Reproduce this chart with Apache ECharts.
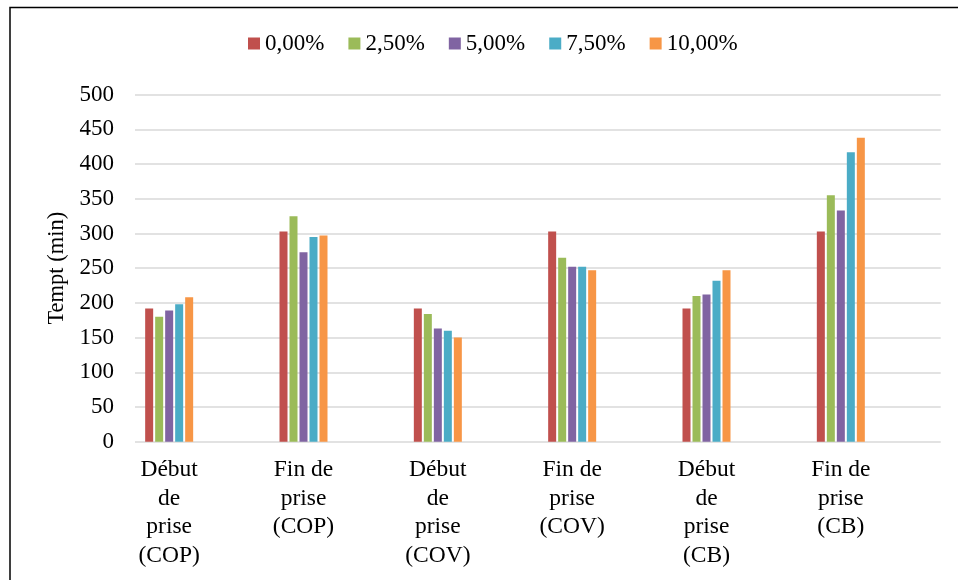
<!DOCTYPE html>
<html>
<head>
<meta charset="utf-8">
<script src="https://cdn.jsdelivr.net/npm/echarts@6/dist/echarts.min.js"></script>
<style>
  html, body { margin: 0; padding: 0; background: #fff; }
  #chart { width: 958px; height: 580px; }
</style>
</head>
<body>
<div id="chart"></div>
<script>
// Setting times (min) for each mix, by admixture dosage
const categories = [
  'Début\nde\nprise\n(COP)',
  'Fin de\nprise\n(COP)',
  'Début\nde\nprise\n(COV)',
  'Fin de\nprise\n(COV)',
  'Début\nde\nprise\n(CB)',
  'Fin de\nprise\n(CB)'
];
const seriesNames = ['0,00%', '2,50%', '5,00%', '7,50%', '10,00%'];
const dose0 = [192, 303, 192, 303, 192, 303];
const dose25 = [180, 325, 184, 265, 210, 355];
const dose50 = [189, 273, 163, 252, 212, 333];
const dose75 = [198, 295, 160, 252, 232, 417];
const dose100 = [208, 297, 150, 247, 247, 438];
const yTicks = { min: 0, max: 500, interval: 50 };

const values = [dose0, dose25, dose50, dose75, dose100];
const colors = ['#C0504D', '#9BBB59', '#8064A2', '#4BACC6', '#F79646'];
const font = '"Liberation Serif", "Times New Roman", serif';

const chart = echarts.init(document.getElementById('chart'), null, { renderer: 'canvas' });

chart.setOption({
  animation: false,
  backgroundColor: '#fff',
  color: colors,
  graphic: [{
    type: 'rect',
    shape: { x: 10, y: 7.5, width: 1200, height: 1200 },
    style: { fill: 'none', stroke: '#000', lineWidth: 1.5 },
    silent: true,
    z: 100
  }],
  legend: {
    data: seriesNames,
    left: 248,
    top: 32,
    padding: 0,
    icon: 'rect',
    itemWidth: 12,
    itemHeight: 12,
    itemGap: 24,
    textStyle: { fontFamily: font, fontSize: 23, color: '#000' }
  },
  grid: [
    // bar area
    { left: 102, right: 50, top: 94.7, bottom: 138.3 },
    // gridline / value-axis area
    { left: 135, right: 17.3, top: 94.7, bottom: 138.3 }
  ],
  xAxis: [
    {
      type: 'category',
      gridIndex: 0,
      data: categories,
      axisLine: { show: false },
      axisTick: { show: false },
      axisLabel: {
        margin: 14,
        fontFamily: font,
        fontSize: 23.5,
        lineHeight: 28.5,
        color: '#000',
        interval: 0,
        align: 'center'
      }
    },
    { type: 'value', gridIndex: 1, show: false, min: 0, max: 1 }
  ],
  yAxis: [
    {
      type: 'value',
      gridIndex: 0,
      min: yTicks.min, max: yTicks.max, interval: yTicks.interval,
      axisLabel: { show: false },
      axisLine: { show: false },
      axisTick: { show: false },
      splitLine: { show: false }
    },
    {
      type: 'value',
      gridIndex: 1,
      min: yTicks.min, max: yTicks.max, interval: yTicks.interval,
      name: 'Tempt (min)',
      nameLocation: 'middle',
      nameGap: 66,
      nameTextStyle: { fontFamily: font, fontSize: 22.5, color: '#000' },
      axisLine: { show: false },
      axisTick: { show: false },
      axisLabel: { margin: 21, fontFamily: font, fontSize: 23, color: '#000', verticalAlign: 'middle', padding: [4, 0, 0, 0] },
      splitLine: { show: true, lineStyle: { color: '#d9d9d9', width: 1.6 } }
    }
  ],
  series: seriesNames.map((name, i) => ({
    name,
    type: 'bar',
    xAxisIndex: 0,
    yAxisIndex: 0,
    data: values[i],
    barWidth: 8,
    barGap: '25%',
    itemStyle: { color: colors[i] }
  }))
});
</script>
</body>
</html>
